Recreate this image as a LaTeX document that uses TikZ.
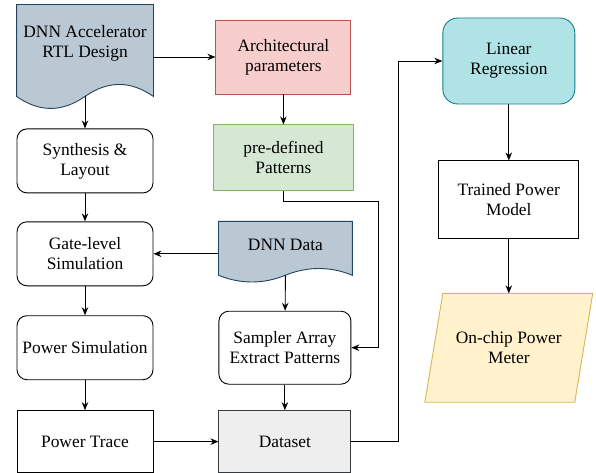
\documentclass[tikz,border=0pt]{standalone}
\usepackage{fontspec}
\setmainfont{Liberation Serif}
\usetikzlibrary{positioning,backgrounds,arrows.meta}

\definecolor{docfill}{HTML}{BAC8D3}
\definecolor{docline}{HTML}{23445D}
\definecolor{archfill}{HTML}{F8CECC}
\definecolor{archline}{HTML}{B85450}
\definecolor{patfill}{HTML}{D5E8D4}
\definecolor{patline}{HTML}{82B366}
\definecolor{regfill}{HTML}{B0E3E6}
\definecolor{regline}{HTML}{0E8088}
\definecolor{meterfill}{HTML}{FFF2CC}
\definecolor{meterline}{HTML}{D6B656}
\definecolor{datafill}{HTML}{EEEEEE}
\definecolor{dataline}{HTML}{36393D}

\tikzstyle{base} = [font=\rmfamily\fontsize{17.4}{20}\selectfont, text centered, align=center, line width=0.9pt]
\tikzstyle{block} = [base, rectangle, minimum width=140pt, draw=black]
\tikzstyle{rblock} = [base, rectangle, rounded corners=10pt, minimum width=136pt, minimum height=64pt, draw=black]
\tikzstyle{doc} = [base, rectangle, inner sep=0pt]
\tikzstyle{docshape} = [fill=docfill, draw=docline, line width=0.9pt]
\tikzstyle{arrow} = [line width=0.9pt,-{Stealth[length=8pt,width=6.5pt]}]

\begin{document}
\begin{tikzpicture}[x=1pt, y=1pt]
\useasboundingbox (0,0) rectangle (596,472);

% left column
\node (rtl) [doc, minimum width=136pt, minimum height=76pt] at (85,429) {DNN Accelerator\\RTL Design};
\node (synth) [rblock, below=47pt of rtl] {Synthesis \&\\Layout};
\node (gate) [rblock, below=28pt of synth] {Gate-level\\Simulation};
\node (psim) [rblock, below=29pt of gate] {Power Simulation};
\node (trace) [block, minimum width=136pt, minimum height=62pt, below=30pt of psim] {Power Trace};

% middle column
\node (arch) [block, fill=archfill, draw=archline, minimum width=135pt, minimum height=74pt, right=62pt of rtl, yshift=-14pt] {Architectural\\parameters};
\node (pattern) [block, fill=patfill, draw=patline, minimum height=66pt, below=30pt of arch] {pre-defined\\Patterns};
\node (dnndata) [doc, minimum width=133pt, minimum height=46pt, below=30pt of pattern, xshift=2pt] {DNN Data};
\node (sampler) [rblock, minimum width=132pt, minimum height=73pt, right=65pt of psim] {Sampler Array\\Extract Patterns};
\node (dataset) [block, fill=datafill, draw=dataline, minimum width=132pt, minimum height=62pt, right=65pt of trace] {Dataset};

% right column
\node (linreg) [rblock, rounded corners=15pt, fill=regfill, draw=regline, minimum width=132pt, minimum height=86pt, right=91pt of arch, yshift=-4pt] {Linear\\Regression};
\node (model) [block, minimum height=78pt, below=56pt of linreg] {Trained Power\\Model};
\node (meter) [doc, minimum width=149pt, minimum height=108pt, below=54pt of model] {On-chip Power\\Meter};

% document and parallelogram shapes
\coordinate (rtlw) at ([yshift=-15pt]rtl.south);
\coordinate (dnnw) at ([yshift=-7pt]dnndata.south);
\begin{scope}[on background layer]
\draw [docshape] (rtl.north west) -- (rtl.north east) -- ([yshift=-15pt]rtl.south east)
  .. controls +(-23,16) and +(23,16) .. (rtlw)
  .. controls +(-23,-16) and +(23,-16) .. ([yshift=-15pt]rtl.south west) -- cycle;
\draw [docshape] (dnndata.north west) -- (dnndata.north east) -- ([yshift=-7pt]dnndata.south east)
  .. controls +(-22,9) and +(22,9) .. (dnnw)
  .. controls +(-22,-9) and +(22,-9) .. ([yshift=-7pt]dnndata.south west) -- cycle;
\draw [fill=meterfill, draw=meterline, line width=0.9pt] ([xshift=9pt]meter.north west) -- ([xshift=9pt]meter.north east)
  -- ([xshift=-9pt]meter.south east) -- ([xshift=-9pt]meter.south west) -- cycle;
\end{scope}

\draw [arrow] (rtlw) -- (synth);
\draw [arrow] (synth) -- (gate);
\draw [arrow] (gate) -- (psim);
\draw [arrow] (psim) -- (trace);
\draw [arrow] (rtl.east |- arch.west) -- (arch.west);
\draw [arrow] (arch) -- (pattern);
\draw [arrow] (pattern.south) -- ++(0,-10) -| ([xshift=27pt]sampler.east) -- (sampler.east);
\draw [arrow] (dnndata.west |- gate.east) -- (gate.east);
\draw [arrow] (dnnw) -- (sampler);
\draw [arrow] (sampler) -- (dataset);
\draw [arrow] (trace) -- (dataset);
\draw [arrow] (dataset.east) -- ++(47,0) |- (linreg.west);
\draw [arrow] (linreg) -- (model);
\draw [arrow] (model) -- (meter);
\end{tikzpicture}
\end{document}
